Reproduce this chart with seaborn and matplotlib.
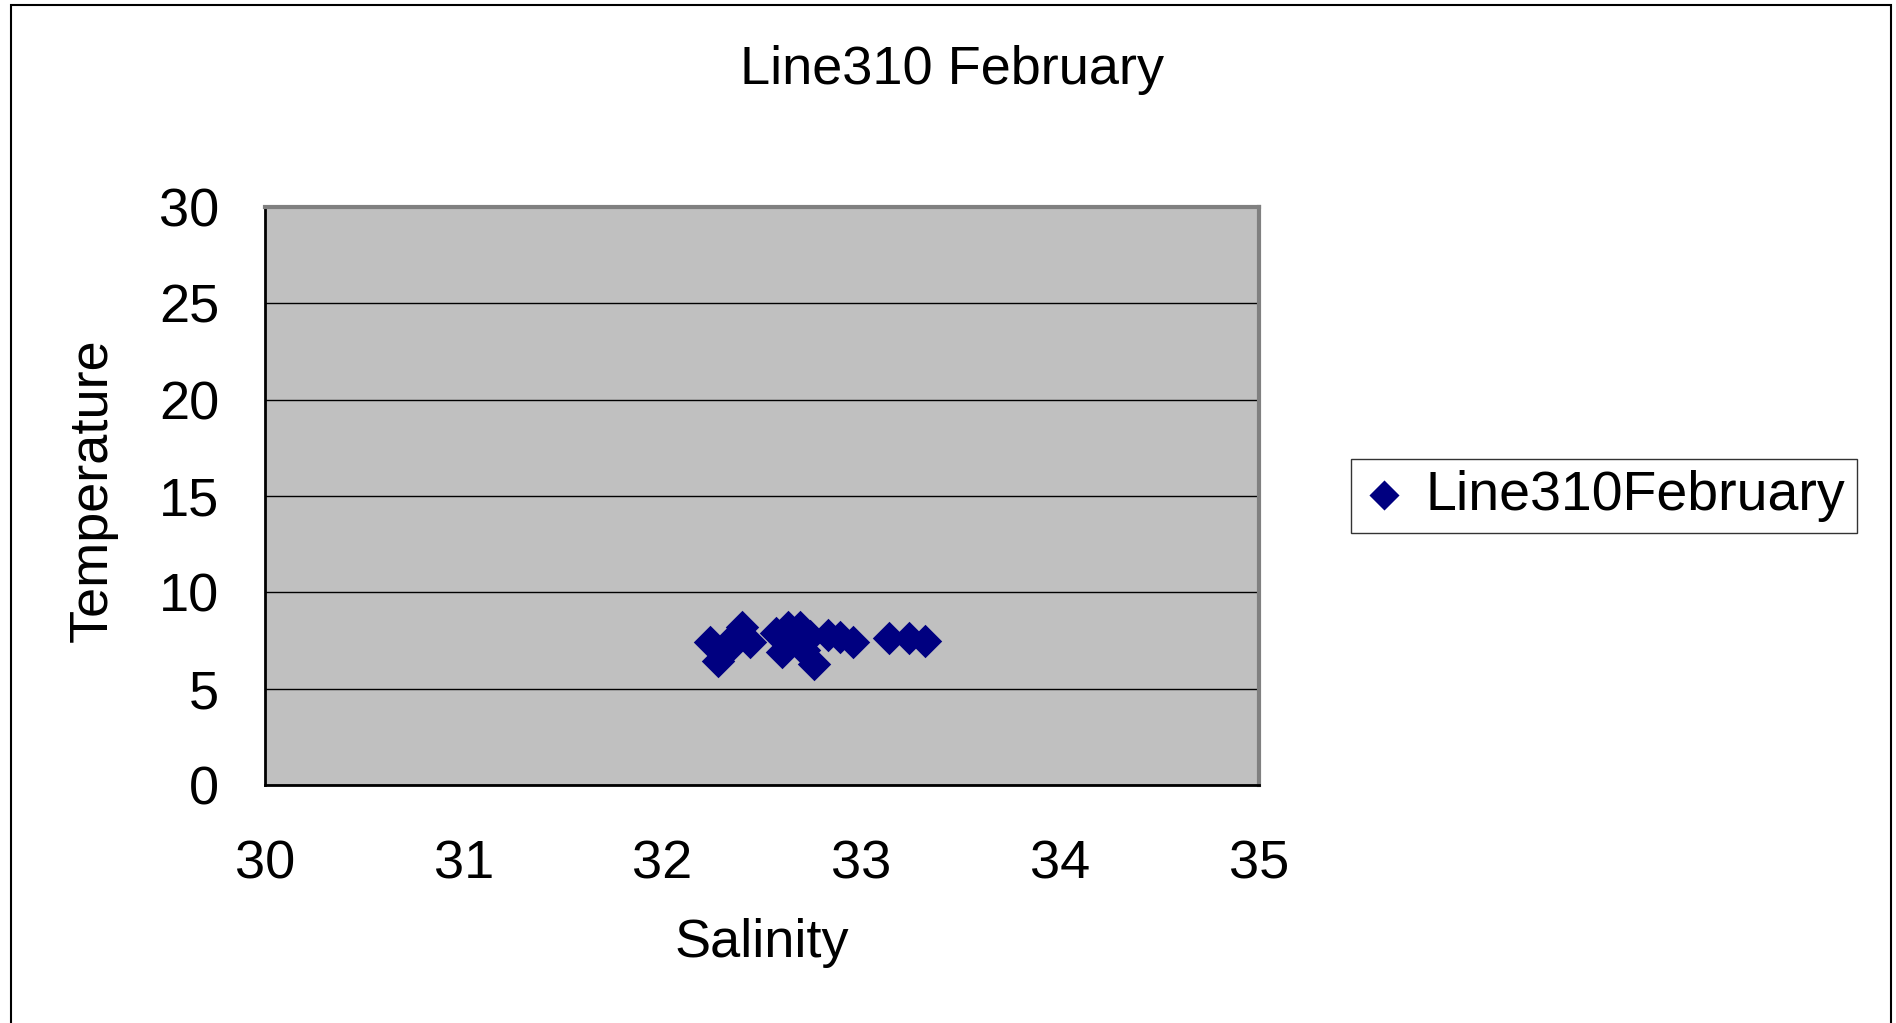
import numpy as np
import pandas as pd
import matplotlib
matplotlib.use('Agg')
import matplotlib.pyplot as plt
import seaborn as sns
from matplotlib.patches import Rectangle
from matplotlib.ticker import MultipleLocator

# Datos (salinidad vs temperatura, Line310 febrero)
salinity = [32.24, 32.28, 32.34, 32.36, 32.40, 32.44, 32.57, 32.60, 32.63, 32.69,
            32.71, 32.76, 32.83, 32.89, 32.96, 33.14, 33.24, 33.32, 32.74, 32.62]
temperature = [7.43, 6.44, 7.17, 7.69, 8.19, 7.43, 7.90, 6.90, 8.20, 8.20,
               7.00, 6.27, 7.77, 7.69, 7.43, 7.63, 7.63, 7.48, 7.75, 7.55]
series_name = 'Line310February'

df = pd.DataFrame({'Salinity': salinity, 'Temperature': temperature})

sns.set_style('white')
plt.rcParams['font.family'] = ['Liberation Sans', 'DejaVu Sans']
plt.rcParams['text.color'] = 'black'
plt.rcParams['axes.labelcolor'] = 'black'
FS = 39

fig = plt.figure(figsize=(18.96, 10.23), dpi=100)
ax = fig.add_axes([265 / 1896, 1 - 785 / 1023, (1259 - 265) / 1896, (785 - 207) / 1023])
ax.set_facecolor('#C0C0C0')

sns.scatterplot(data=df, x='Salinity', y='Temperature', marker='D', s=290,
                color='#000080', linewidth=0, ax=ax, label=series_name, zorder=3)

ax.set_xlim(30, 35)
ax.set_ylim(0, 30)
ax.xaxis.set_major_locator(MultipleLocator(1))
ax.xaxis.set_minor_locator(MultipleLocator(0.5))
ax.yaxis.set_major_locator(MultipleLocator(5))
ax.grid(axis='y', color='black', linewidth=1, zorder=1)
ax.set_axisbelow(True)
ax.tick_params(axis='x', which='major', direction='in', length=11, width=1.2,
               labelsize=FS, pad=39, colors='black')
ax.tick_params(axis='x', which='minor', direction='in', length=8, width=1.2, colors='black')
ax.tick_params(axis='y', direction='in', length=4, labelsize=FS, pad=33, colors='black')

for side in ['left', 'bottom']:
    ax.spines[side].set_color('black')
    ax.spines[side].set_linewidth(2)
for side in ['top', 'right']:
    ax.spines[side].set_color('#808080')
    ax.spines[side].set_linewidth(3)

ax.set_xlabel('Salinity', fontsize=FS, va='center')
ax.set_ylabel('Temperature', fontsize=FS, va='center')
ax.xaxis.set_label_coords(0.5, -0.273)
ax.yaxis.set_label_coords(-0.173, 0.51)
fig.text(952 / 1896, 1 - 70 / 1023, 'Line310 February', fontsize=FS,
         ha='center', va='center')

leg = ax.legend(loc='center left', bbox_to_anchor=(1351 / 1896, 1 - 496 / 1023),
                bbox_transform=fig.transFigure, fontsize=FS + 1, frameon=True,
                fancybox=False, borderpad=0.2, borderaxespad=0, handlelength=0.8,
                handletextpad=0.35, markerscale=0.9)
leg.get_frame().set_edgecolor('black')
leg.get_frame().set_linewidth(1)

# marco exterior del grafico
fig.patches.append(Rectangle((11 / 1896, -0.01), (1891 - 11) / 1896, 1 - 5 / 1023 + 0.01,
                             transform=fig.transFigure, fill=False,
                             edgecolor='black', linewidth=1.5))

fig.savefig('out.png', dpi=100)
